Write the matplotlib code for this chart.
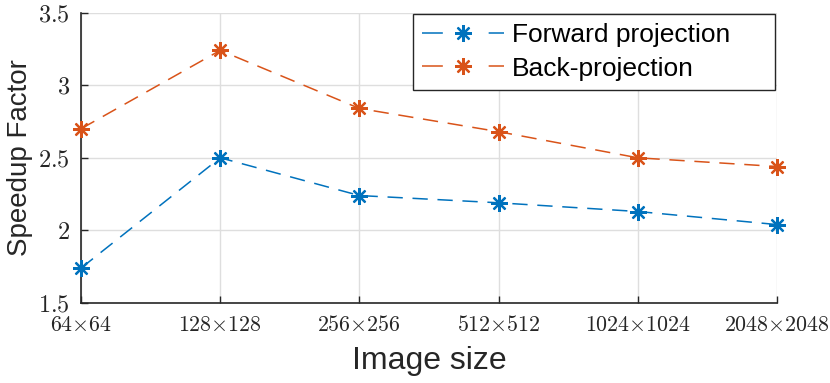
import matplotlib
matplotlib.use("Agg")
import matplotlib.pyplot as plt

plt.rcParams["font.family"] = ["Liberation Sans", "DejaVu Sans"]
plt.rcParams["mathtext.fontset"] = "cm"
plt.rcParams["lines.scale_dashes"] = False

# data
sizes = ["64", "128", "256", "512", "1024", "2048"]
forward = [1.74, 2.50, 2.24, 2.19, 2.13, 2.04]
backward = [2.70, 3.24, 2.84, 2.68, 2.50, 2.44]
y_ticks = [1.5, 2, 2.5, 3, 3.5]
y_tick_labels = ["1.5", "2", "2.5", "3", "3.5"]

x = list(range(len(sizes)))
x_labels = [r"$%s{\times}%s$" % (s, s) for s in sizes]

fig = plt.figure(figsize=(8.3, 3.83), dpi=100)
ax = fig.add_axes([0.0976, 0.209, 0.8385, 0.758])

blue = "#0072BD"
orange = "#D95319"
star = (8, 2, 0)

ax.plot(x, forward, color=blue, lw=1.1, dashes=(11, 7), marker=star,
        markersize=12, markeredgewidth=1.6, label="Forward projection", clip_on=False, zorder=3)
ax.plot(x, backward, color=orange, lw=1.1, dashes=(11, 7), marker=star,
        markersize=12, markeredgewidth=1.6, label="Back-projection", clip_on=False, zorder=3)

ax.set_xlim(0, 5)
ax.set_ylim(1.5, 3.5)
ax.set_xticks(x)
ax.set_xticklabels(x_labels, fontsize=15.8)
ax.set_yticks(y_ticks)
ax.set_yticklabels(["$%s$" % t for t in y_tick_labels], fontsize=17.5)

ax.grid(True, color="#dedede", lw=1.0)
ax.set_axisbelow(True)
for side in ["top", "right"]:
    ax.spines[side].set_visible(False)
for side in ["left", "bottom"]:
    ax.spines[side].set_color("#262626")
    ax.spines[side].set_linewidth(1.2)
ax.tick_params(direction="in", length=5, width=1.0, color="#262626", labelcolor="#262626")
ax.tick_params(axis="x", pad=9)
ax.tick_params(axis="y", pad=8)

ax.set_xlabel("Image size", fontsize=23, color="#262626", labelpad=7)
ax.set_ylabel("Speedup Factor", fontsize=20, color="#262626", labelpad=4)

leg = ax.legend(bbox_to_anchor=(0.477, 0.72, 0.52, 0.275), mode="expand", loc="upper right",
                fontsize=19, handlelength=3.1, handletextpad=0.3,
                labelspacing=0.35, borderpad=0.35, borderaxespad=0.0, fancybox=False,
                framealpha=1, edgecolor="#262626")
leg.get_frame().set_linewidth(1.0)
for ln in leg.get_lines():
    ln.set_dashes((15, 33))

fig.savefig("out.png", dpi=100)
